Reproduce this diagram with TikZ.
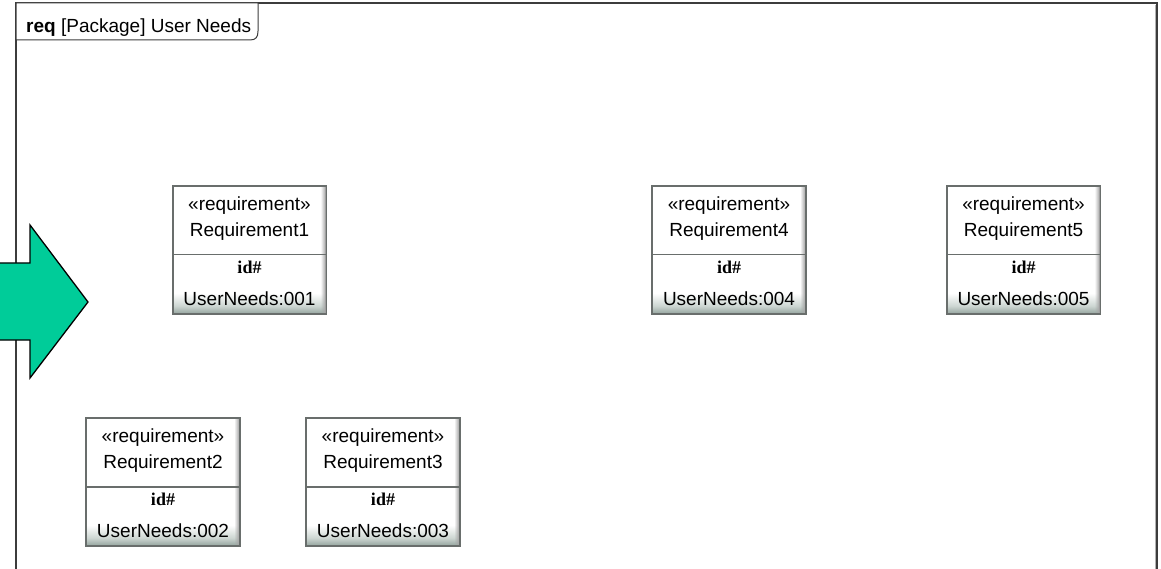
\documentclass[tikz,border=0pt]{standalone}
\usepackage{fontspec}
\setmainfont{Liberation Sans}
\newfontfamily\idfont{Liberation Serif}
\usetikzlibrary{calc,fadings}

\definecolor{framegray}{RGB}{60,60,60}
\definecolor{boxline}{RGB}{105,110,108}
\definecolor{shadeB}{RGB}{150,166,160}
\definecolor{shadeM}{RGB}{205,214,210}
\definecolor{arrowgreen}{RGB}{0,204,153}

% requirement box: white body, darker band along the bottom edge
\pgfdeclareverticalshading{reqfill}{100bp}{%
  color(0bp)=(shadeB); color(25bp)=(shadeB); color(28bp)=(shadeM);
  color(33bp)=(white); color(100bp)=(white)}

\tikzset{
  reqbox/.style={draw=boxline, line width=1.1pt, shading=reqfill,
    minimum width=153pt, minimum height=127pt, inner sep=0pt},
  reqtext/.style={anchor=base, inner sep=0pt, font=\fontsize{19}{21}\selectfont},
  idtext/.style={anchor=base, inner sep=0pt, font=\fontsize{18}{20}\selectfont\idfont\bfseries},
}

% divider, edge shadow and the four text lines of a requirement box
\newcommand\reqparts[3]{%
  \fill[gray!70, path fading=west]
    ($(#1.north east)+(-6,1)$) rectangle ($(#1.south east)+(-1,-1)$);
  \draw[boxline, line width=1.1pt] (#1.north west) rectangle (#1.south east);
  \draw[boxline, line width=1.1pt]
    ($(#1.north west)+(0,69)$) -- ($(#1.north east)+(0,69)$);
  \node[reqtext] (#1-st) at ($(#1.north)+(0,25)$) {«requirement»};
  \node[reqtext] (#1-nm) at ($(#1.north)+(0,51)$) {#2};
  \node[idtext]  (#1-id) at ($(#1.north)+(0,88)$) {id\#};
  \node[reqtext] (#1-vl) at ($(#1.north)+(0,120)$) {#3};
}

\begin{document}
\begin{tikzpicture}[x=1pt, y=-1pt]
  \useasboundingbox (0,0) rectangle (1161,569);
  \fill[white] (0,0) rectangle (1161,569);

  % diagram frame (open at the bottom)
  \draw[framegray, line width=1.4pt] (16,575) -- (16,3) -- (1157,3) -- (1157,575);
  \draw[gray!60, line width=1pt] (1155,5) -- (1155,575);

  % frame name tab
  \draw[framegray, line width=1pt, fill=white]
    (16,3) -- (258,3) -- (258,31) .. controls (258,37) and (256,40) .. (250,40) -- (16,40) -- cycle;
  \node[anchor=base west, inner sep=0pt, font=\fontsize{19}{21}\selectfont] (title)
    at (26,33) {\textbf{req} [Package] User Needs};

  % requirement boxes
  \node[reqbox] (r1) at (249.5,250) {};
  \node[reqbox] (r4) at (729,250) {};
  \node[reqbox] (r5) at (1023.5,250) {};
  \node[reqbox] (r2) at (163,482) {};
  \node[reqbox] (r3) at (383,482) {};

  \reqparts{r1}{Requirement1}{UserNeeds:001}
  \reqparts{r4}{Requirement4}{UserNeeds:004}
  \reqparts{r5}{Requirement5}{UserNeeds:005}
  \reqparts{r2}{Requirement2}{UserNeeds:002}
  \reqparts{r3}{Requirement3}{UserNeeds:003}

  % block arrow
  \draw[black, line width=1.3pt, fill=arrowgreen, line join=miter]
    (-5,263) -- (30,263) -- (30,225) -- (88,302) -- (30,378) -- (30,340) -- (-5,340) -- cycle;
\end{tikzpicture}
\end{document}
